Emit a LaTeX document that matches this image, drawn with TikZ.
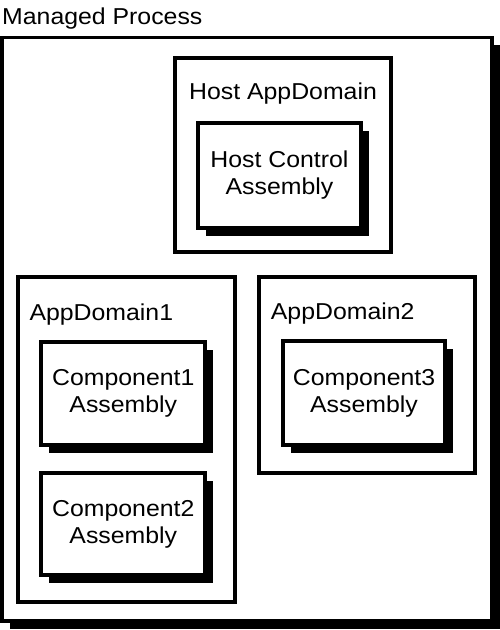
\documentclass[tikz,border=0pt]{standalone}
\usepackage{fontspec}
\setmainfont[FakeStretch=1.08]{Liberation Sans}
\usetikzlibrary{shadows}
\begin{document}
\begin{tikzpicture}[x=1pt,y=-1pt,
  txt/.style={font=\fontsize{23}{27.3}\selectfont, inner sep=0pt},
  frame/.style={draw=black, line width=3.6pt, fill=white, inner sep=0pt,
    general shadow={fill=black, shadow xshift=7.5pt, shadow yshift=-7.5pt}},
  adbox/.style={draw=black, line width=3.8pt, fill=white, inner sep=0pt},
  assembly/.style={draw=black, line width=3.8pt, fill=white, inner sep=0pt,
    align=center, font=\fontsize{23}{27.3}\selectfont,
    general shadow={fill=black, shadow xshift=8pt, shadow yshift=-8pt}}
]
\useasboundingbox (0,0) rectangle (500,630);
\fill[white] (0,0) rectangle (500,630);

\node[frame, minimum width=490pt, minimum height=583.5pt] (outer) at (247,329.25) {};
\node[txt, anchor=base west] (outerlbl) at (2,24) {Managed Process};

\node[adbox, minimum width=216pt, minimum height=194pt] (hostad) at (283,155) {};
\node[txt, anchor=base] (hostadlbl) at (283,99.3) {Host AppDomain};
\node[assembly, minimum width=163pt, minimum height=105.3pt] (hostca) at (279.5,175.35) {Host Control\\Assembly};

\node[adbox, minimum width=216.7pt, minimum height=325pt] (ad1) at (126.35,439.5) {};
\node[txt, anchor=base west] (ad1lbl) at (29.3,320) {AppDomain1};
\node[assembly, minimum width=164pt, minimum height=102.7pt] (c1) at (123.3,393.35) {Component1\\Assembly};
\node[assembly, minimum width=164pt, minimum height=102.6pt] (c2) at (123.3,524) {Component2\\Assembly};

\node[adbox, minimum width=216pt, minimum height=195.7pt] (ad2) at (366.7,374.85) {};
\node[txt, anchor=base west] (ad2lbl) at (270.7,319.3) {AppDomain2};
\node[assembly, minimum width=162.6pt, minimum height=103.4pt] (c3) at (364,393) {Component3\\Assembly};
\end{tikzpicture}
\end{document}
